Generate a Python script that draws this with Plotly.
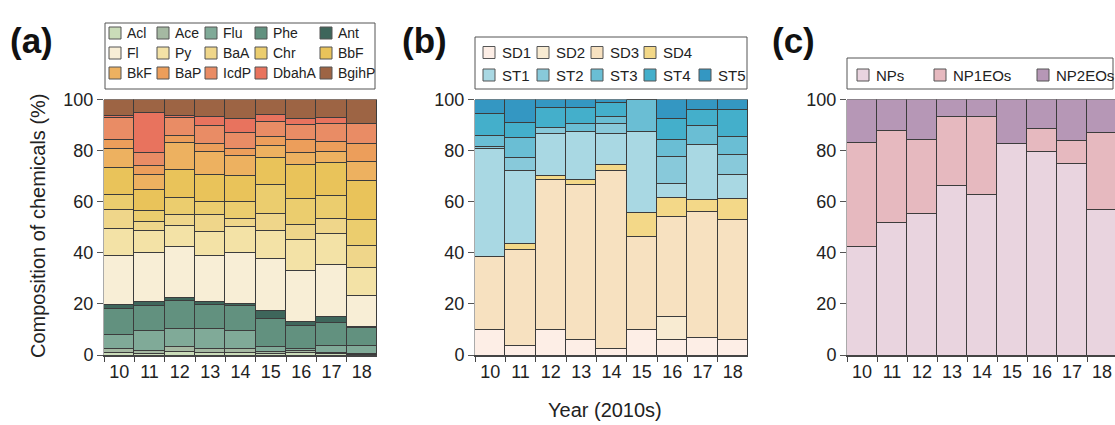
import plotly.graph_objects as go

W, H = 1115, 425

# ---------------- data ----------------
years = ["10", "11", "12", "13", "14", "15", "16", "17", "18"]

# panel (a) PAHs composition (%)
pah_names = ["Acl", "Ace", "Flu", "Phe", "Ant", "Fl", "Py", "BaA", "Chr", "BbF",
             "BkF", "BaP", "IcdP", "DbahA", "BgihP"]
Acl = [1.0, 0.5, 1.3, 1.0, 1.0, 0.5, 0.8, 0.5, 0.3]
Ace = [1.6, 1.1, 2.1, 1.6, 1.6, 0.8, 0.8, 0.5, 0.3]
Flu = [5.5, 8.1, 7.1, 7.9, 7.1, 2.1, 1.0, 2.9, 3.1]
Phe = [10.2, 9.5, 10.9, 9.4, 9.6, 11.0, 8.9, 8.8, 7.1]
Ant = [1.3, 1.7, 1.2, 1.0, 1.0, 2.9, 1.6, 2.3, 0.2]
Fl = [19.5, 19.4, 20.0, 18.2, 20.0, 20.6, 20.1, 20.6, 12.3]
Py = [10.4, 8.6, 8.2, 9.3, 9.8, 11.0, 12.0, 12.1, 11.1]
BaA = [7.6, 3.5, 4.0, 6.4, 3.5, 6.5, 6.0, 5.9, 8.6]
Chr = [5.9, 4.2, 7.0, 5.3, 6.5, 11.5, 10.0, 8.9, 9.9]
BbF = [10.2, 8.1, 10.9, 10.7, 10.1, 10.5, 13.2, 12.7, 15.3]
BkF = [7.6, 6.1, 10.3, 8.9, 7.7, 4.6, 4.7, 4.5, 7.4]
BaP = [3.5, 3.2, 3.1, 2.9, 2.9, 3.5, 5.2, 4.0, 7.0]
IcdP = [8.5, 5.1, 7.0, 7.1, 6.4, 5.7, 5.9, 6.8, 8.2]
DbahA = [1.1, 15.7, 0.8, 3.5, 5.3, 2.9, 2.3, 2.6, 0.0]
BgihP = [6.1, 5.2, 6.1, 6.8, 7.5, 5.9, 7.5, 6.9, 9.2]
pah_values = [Acl, Ace, Flu, Phe, Ant, Fl, Py, BaA, Chr, BbF, BkF, BaP, IcdP, DbahA, BgihP]

# panel (b) sources composition (%)
src_names_sd = ["SD1", "SD2", "SD3", "SD4"]
src_names_st = ["ST1", "ST2", "ST3", "ST4", "ST5"]
SD1 = [10.1, 3.9, 10.1, 6.1, 2.6, 10.1, 6.1, 6.8, 6.1]
SD2 = [0.0, 0.0, 0.0, 0.0, 0.0, 0.0, 8.9, 0.0, 0.0]
SD3 = [28.5, 37.5, 58.4, 60.8, 69.8, 36.2, 39.2, 49.4, 47.1]
SD4 = [0.0, 2.3, 1.6, 1.6, 2.0, 9.3, 7.6, 4.5, 8.0]
ST1 = [42.4, 28.7, 16.6, 18.8, 12.3, 31.7, 5.5, 21.7, 9.4]
ST2 = [0.6, 5.0, 2.2, 0.0, 4.1, 0.0, 10.5, 0.0, 7.8]
ST3 = [4.4, 7.6, 0.0, 3.2, 2.7, 12.7, 6.5, 7.5, 7.2]
ST4 = [8.4, 6.1, 8.1, 6.5, 5.2, 0.0, 8.1, 6.2, 10.5]
ST5 = [5.6, 8.9, 3.0, 3.0, 1.3, 0.0, 7.6, 3.9, 3.9]
src_values = [SD1, SD2, SD3, SD4, ST1, ST2, ST3, ST4, ST5]

# panel (c) nonylphenols composition (%)
np_names = ["NPs", "NP1EOs", "NP2EOs"]
NPs = [42.5, 51.9, 55.2, 66.3, 62.7, 82.9, 79.7, 74.9, 56.9]
NP1EOs = [40.5, 35.9, 29.1, 27.2, 30.6, 0.0, 8.8, 9.2, 30.0]
NP2EOs = [17.0, 12.2, 15.7, 6.5, 6.7, 17.1, 11.5, 15.9, 13.1]
np_values = [NPs, NP1EOs, NP2EOs]

# ---------------- styles ----------------
pah_colors = ["#cadcb9", "#a5b9a2", "#80aa98", "#62917f", "#3e665b",
              "#f8eed6", "#f3e2a6", "#efd68a", "#ebcd6e", "#e9c35a",
              "#edb160", "#ec9e5b", "#e98c65", "#e8735e", "#9d6444"]
src_colors = ["#fdeee6", "#f8ebd2", "#f7e1c0", "#f3d888",
              "#a9d8e3", "#88c9da", "#6abed4", "#44afcb", "#3497c2"]
np_colors = ["#e9d4df", "#e6b9bf", "#b697b6"]

FONT = "Arial, 'Liberation Sans', sans-serif"
EDGE = "#3c3c3c"


def px(x):
    return x / W


def py(y):
    return (H - y) / H


fig = go.Figure()


def add_stack(names, values, colors, axis):
    for n, v, c in zip(names, values, colors):
        fig.add_trace(go.Bar(
            x=years, y=v, name=n, marker=dict(color=c, line=dict(color=EDGE, width=1)),
            xaxis="x" + axis, yaxis="y" + axis, showlegend=False,
        ))


add_stack(pah_names, pah_values, pah_colors, "")
add_stack(src_names_sd + src_names_st, src_values, src_colors, "2")
add_stack(np_names, np_values, np_colors, "3")

# ---------------- layout ----------------
ydom = [py(355), py(99.5)]
xdoms = [[px(104), px(377)], [px(475), px(748)], [px(847), 1.0]]
xranges = [[-0.5, 8.5], [-0.5, 8.5], [-0.5, 8.43]]

axis_common_x = dict(
    type="category", tickson="boundaries", ticks="outside", ticklen=5,
    tickcolor="#444", tickwidth=1.2, showline=True, linecolor="#444", linewidth=1.5,
    showgrid=False, tickfont=dict(family=FONT, size=18, color="#222"), fixedrange=True,
    automargin=False,
)
axis_common_y = dict(
    range=[0, 100], tickvals=[0, 20, 40, 60, 80, 100], ticks="outside", ticklen=6,
    tickcolor="#555", tickwidth=1.2, showline=True, linecolor="#aaa", linewidth=1,
    showgrid=False, zeroline=False, tickfont=dict(family=FONT, size=18, color="#222"),
    fixedrange=True, automargin=False,
)

layout = dict(
    width=W, height=H, autosize=False, margin=dict(l=0, r=0, t=0, b=0, pad=0),
    paper_bgcolor="white", plot_bgcolor="white",
    barmode="stack", bargap=0, showlegend=False,
    font=dict(family=FONT, color="#222"),
)
for i, suf in enumerate(["", "2", "3"]):
    layout["xaxis" + suf] = dict(axis_common_x, domain=xdoms[i], range=xranges[i],
                                 anchor="y" + suf)
    layout["yaxis" + suf] = dict(axis_common_y, domain=ydom, anchor="x" + suf)
fig.update_layout(**layout)

# ---------------- legends (boxed, grid layout) ----------------
shapes = []
annotations = []


def draw_legend(rows, colors_map, box, col_x, row_y, text_off, fsize):
    x0, y0, x1, y1 = box
    shapes.append(dict(type="rect", xref="paper", yref="paper",
                       x0=px(x0), x1=px(x1), y0=py(y1), y1=py(y0),
                       line=dict(color="#555", width=1), fillcolor="white", layer="above"))
    for r, row in enumerate(rows):
        for c, name in enumerate(row):
            sx, sy = col_x[c], row_y[r]
            shapes.append(dict(type="rect", xref="paper", yref="paper",
                               x0=px(sx), x1=px(sx + 12), y0=py(sy + 6), y1=py(sy - 6),
                               fillcolor=colors_map[name], line=dict(color="#555", width=1),
                               layer="above"))
            annotations.append(dict(text=name, xref="paper", yref="paper",
                                    x=px(sx + text_off), y=py(sy), xanchor="left",
                                    yanchor="middle", showarrow=False,
                                    font=dict(family=FONT, size=fsize, color="#222")))


pah_rows = [pah_names[i:i + 5] for i in range(0, len(pah_names), 5)]
draw_legend(pah_rows, dict(zip(pah_names, pah_colors)), (105, 23, 375, 89),
            [109, 157, 205, 255, 320], [33, 53, 73], 16, 14)
draw_legend([src_names_sd, src_names_st],
            dict(zip(src_names_sd + src_names_st, src_colors)), (475, 37, 747, 89),
            [483, 537, 591, 644, 699], [52.5, 75], 17, 15)
draw_legend([np_names], dict(zip(np_names, np_colors)), (847, 58, 1113, 89),
            [857, 934, 1037], [75], 17, 15)

# panel labels and titles
for lab, x in [("(a)", 8), ("(b)", 400), ("(c)", 770)]:
    annotations.append(dict(text="<b>%s</b>" % lab, xref="paper", yref="paper",
                            x=px(x), y=py(40), xanchor="left", yanchor="middle",
                            showarrow=False, font=dict(family=FONT, size=35, color="#111")))
annotations.append(dict(text="Composition of chemicals (%)", xref="paper", yref="paper",
                        x=px(38), y=py(226), xanchor="center", yanchor="middle",
                        textangle=-90, showarrow=False,
                        font=dict(family=FONT, size=20, color="#222")))
annotations.append(dict(text="Year (2010s)", xref="paper", yref="paper",
                        x=px(605), y=py(410), xanchor="center", yanchor="middle",
                        showarrow=False, font=dict(family=FONT, size=20, color="#222")))

fig.update_layout(shapes=shapes, annotations=annotations)
fig.write_html(
    "out.html",
    config={"displayModeBar": False},
    post_script="document.body.style.margin='0';document.body.style.overflow='hidden';",
)
